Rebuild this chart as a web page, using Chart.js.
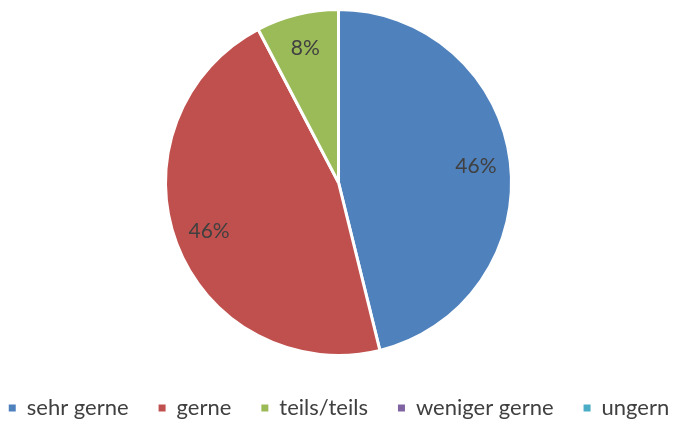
<!DOCTYPE html>
<html>
<head>
<meta charset="utf-8">
<script src="https://cdn.jsdelivr.net/npm/chart.js@4"></script>
<style>
  body { margin: 0; background: #fff; }
  #wrap { width: 677px; height: 423px; }
</style>
</head>
<body>
<div id="wrap"><canvas id="pieChart"></canvas></div>
<script>
const categories = ['sehr gerne', 'gerne', 'teils/teils', 'weniger gerne', 'ungern'];
const counts = [6, 6, 1, 0, 0];
const colors = ['#4F81BD', '#C0504D', '#9BBB59', '#8064A2', '#4BACC6'];

const total = counts.reduce((a, b) => a + b, 0);

// draw percentages inside the slices
const pctLabels = {
  id: 'pctLabels',
  afterDatasetsDraw(chart) {
    const ctx = chart.ctx;
    const arcs = chart.getDatasetMeta(0).data;
    ctx.save();
    ctx.font = '21px Lato';
    ctx.fillStyle = '#404040';
    ctx.textAlign = 'center';
    ctx.textBaseline = 'middle';
    arcs.forEach((arc, i) => {
      if (!counts[i]) return;
      const mid = (arc.startAngle + arc.endAngle) / 2;
      const r = arc.outerRadius * 0.8;
      const x = arc.x + Math.cos(mid) * r;
      const y = arc.y + Math.sin(mid) * r;
      ctx.fillText(Math.round(counts[i] / total * 100) + '%', x, y);
    });
    ctx.restore();
  }
};

new Chart(document.getElementById('pieChart'), {
  type: 'pie',
  data: {
    labels: categories,
    datasets: [{
      data: counts,
      backgroundColor: colors,
      borderColor: '#ffffff',
      borderWidth: 3
    }]
  },
  options: {
    responsive: true,
    maintainAspectRatio: false,
    animation: false,
    // negative side padding so the wide legend stays on one row
    layout: { padding: { top: 8, bottom: -6, left: -31, right: -32 } },
    plugins: {
      tooltip: { enabled: false },
      legend: {
        position: 'bottom',
        // empty title just to push the items down
        title: { display: true, text: '', font: { size: 5 }, padding: { top: 1, bottom: 3 } },
        labels: {
          boxWidth: 7,
          boxHeight: 7,
          padding: 30,
          color: '#404040',
          font: { family: 'Lato', size: 22 },
          generateLabels(chart) {
            const items = Chart.overrides.pie.plugins.legend.labels.generateLabels(chart);
            items.forEach(it => { it.lineWidth = 0; it.strokeStyle = it.fillStyle; });
            return items;
          }
        }
      }
    }
  },
  plugins: [pctLabels]
});
</script>
</body>
</html>
